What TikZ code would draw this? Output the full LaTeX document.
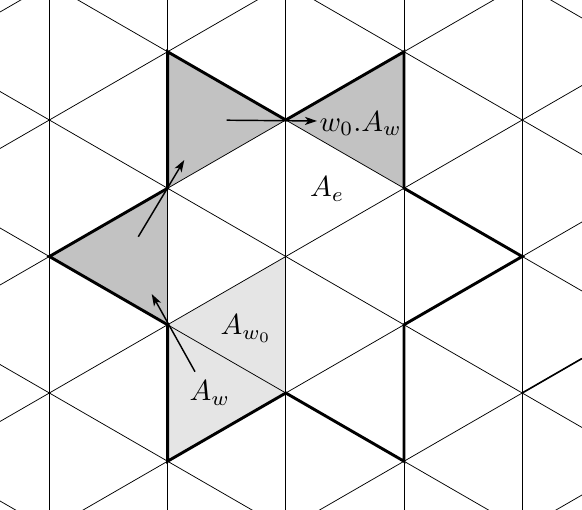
\documentclass[tikz,border=0pt]{standalone}
\usetikzlibrary{arrows.meta}
\definecolor{darkfill}{gray}{0.76}
\definecolor{lightfill}{gray}{0.9}
\tikzset{
  lattice/.style={line width=0.75pt, black},
  medline/.style={line width=1.6pt, black},
  starline/.style={line width=2.9pt, black},
  pointer/.style={line width=1.45pt, -{Stealth[length=12pt,width=8pt,inset=3.2pt]}},
  lbl/.style={scale=2.9, inner sep=0.7pt},
}
\begin{document}
\begin{tikzpicture}[x=1pt,y=-1pt]
\useasboundingbox (0,0) rectangle (582,510);
% lattice vertices
\coordinate (C)   at (285.8,256.5);
\coordinate (P1)  at (167.6,51.75);
\coordinate (P2)  at (285.8,120);
\coordinate (P3)  at (404,51.75);
\coordinate (P4)  at (404,188.25);
\coordinate (P5)  at (522.2,256.5);
\coordinate (P6)  at (404,324.75);
\coordinate (P7)  at (404,461.25);
\coordinate (P8)  at (285.8,393);
\coordinate (P9)  at (167.6,461.25);
\coordinate (P10) at (167.6,324.75);
\coordinate (P11) at (49.4,256.5);
\coordinate (P12) at (167.6,188.25);
\coordinate (Q1)  at (522.2,393);
\coordinate (Q2)  at (582,358.5);
% fills
\fill[darkfill] (P1) -- (P2) -- (P12) -- cycle;
\fill[darkfill] (P2) -- (P3) -- (P4) -- cycle;
\fill[darkfill] (P11) -- (P12) -- (P10) -- cycle;
\fill[lightfill] (P10) -- (C) -- (P8) -- (P9) -- cycle;
% lattice
\begin{scope}
\clip (0,0) rectangle (582,510);
\foreach \k in {-2,...,2}
  \draw[lattice] ({285.8+\k*118.2},-5) -- ({285.8+\k*118.2},515);
\foreach \n in {-5,...,5}{
  \draw[lattice] (0,{91.5+\n*136.5}) -- (582,{427.5+\n*136.5});
  \draw[lattice] (0,{421.5+\n*136.5}) -- (582,{85.5+\n*136.5});
}
\draw[medline] (Q1) -- (Q2);
\end{scope}
% star outline
\draw[starline] (P1) -- (P2) -- (P3) -- (P4) -- (P5) -- (P6) -- (P7) -- (P8)
  -- (P9) -- (P10) -- (P11) -- (P12) -- cycle;
% labels
\node[lbl, anchor=west] (lw0) at (317,123.5) {$w_0.A_w$};
\node[lbl] (le) at (327.3,189) {$A_e$};
\node[lbl] (lwz) at (246.3,328.5) {$A_{w_0}$};
\node[lbl] (lw) at (210,393) {$A_w$};
% arrows
\coordinate (s1) at (226.7,120.2);
\coordinate (s2) at (138.3,236.7);
\coordinate (e2) at (184.3,160);
\coordinate (s3) at (195,371.7);
\coordinate (e3) at (151.7,294);
\draw[pointer] (s1) -- ([yshift=2.5pt]lw0.west);
\draw[pointer] (s2) -- (e2);
\draw[pointer] (s3) -- (e3);
\end{tikzpicture}
\end{document}
